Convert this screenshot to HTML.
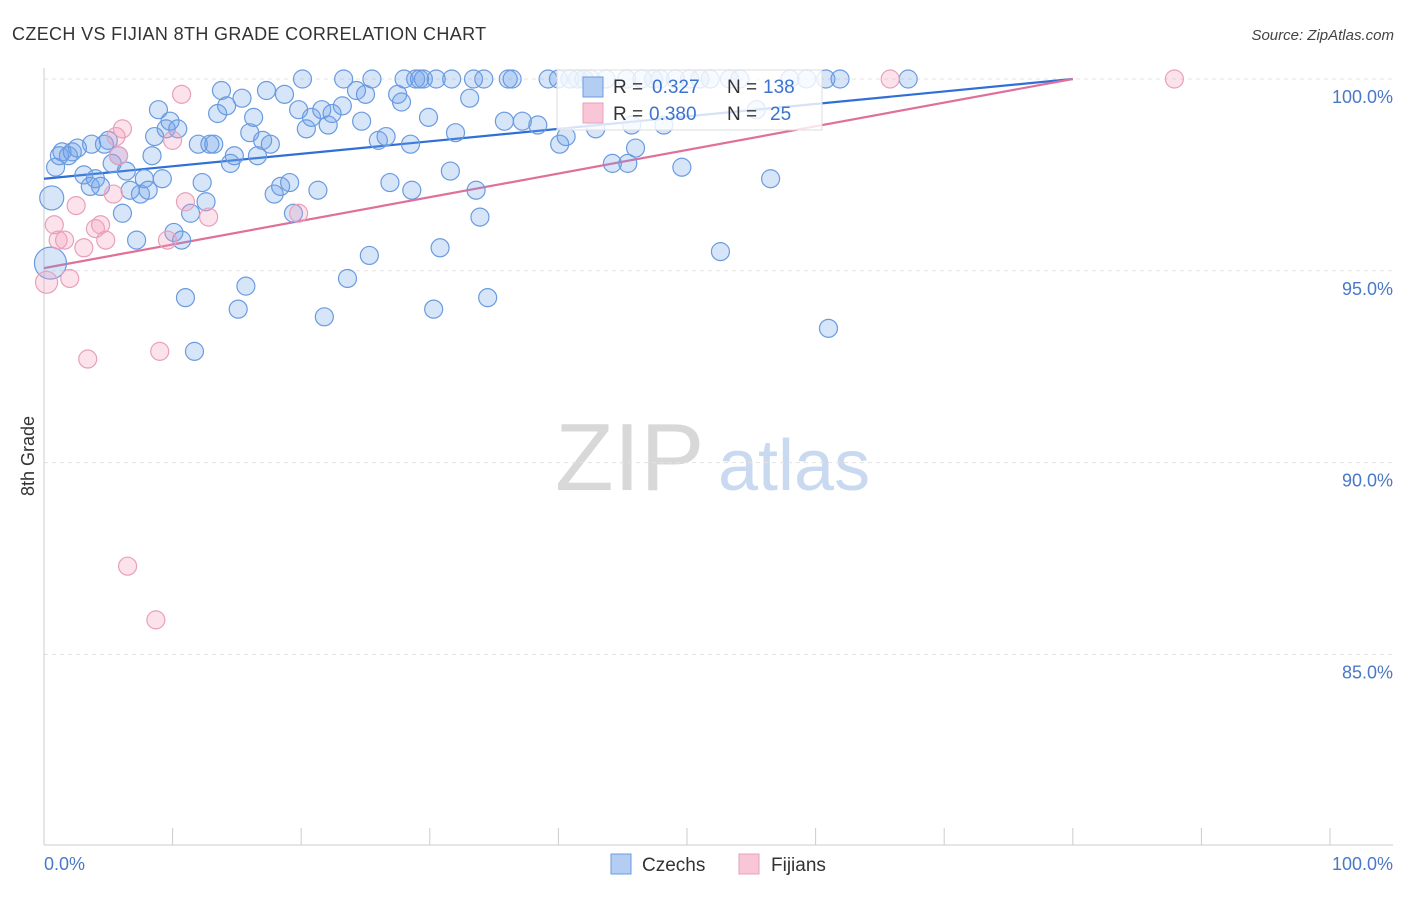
<!DOCTYPE html>
<html><head><meta charset="utf-8"><style>
body{margin:0;background:#fff;font-family:"Liberation Sans",sans-serif}
svg text{font-family:"Liberation Sans",sans-serif}
</style></head><body>
<svg id="chart" width="1406" height="892" viewBox="0 0 1406 892" xmlns="http://www.w3.org/2000/svg">
<text x="12" y="40" font-size="18" letter-spacing="0.35" fill="#333">CZECH VS FIJIAN 8TH GRADE CORRELATION CHART</text>
<text x="1394" y="40" font-size="15" font-style="italic" fill="#444" text-anchor="end">Source: ZipAtlas.com</text>
<g>
<text x="555" y="490" font-family="Liberation Serif,serif" font-size="96" fill="#d8d8d8">ZIP</text>
<text x="718" y="490" font-size="72" fill="#c9d9f0">atlas</text>
</g>
<g id="grid"></g>
<g id="axes"></g>
<g id="lines"></g>
<g id="pts"></g>
<text transform="translate(34,456) rotate(-90)" font-size="18" fill="#333" text-anchor="middle">8th Grade</text>
<g>
<rect x="557" y="70" width="265" height="60" fill="#fff" fill-opacity="0.8" stroke="#ddd"/>
<rect x="583" y="77" width="20" height="20" fill="#b4cdf2" stroke="#6a9be0"/>
<text x="613" y="93" font-size="19" fill="#333">R = </text><text x="652" y="93" font-size="19" fill="#3b73d1">0.327</text>
<text x="727" y="93" font-size="19" fill="#333">N = </text><text x="763" y="93" font-size="19" fill="#3b73d1">138</text>
<rect x="583" y="103" width="20" height="20" fill="#f8c6d6" stroke="#e8a0bb"/>
<text x="613" y="120" font-size="19" fill="#333">R = </text><text x="649" y="120" font-size="19" fill="#3b73d1">0.380</text>
<text x="727" y="120" font-size="19" fill="#333">N = </text><text x="770" y="120" font-size="19" fill="#3b73d1">25</text>
</g>
<g>
<rect x="611" y="854" width="20" height="20" fill="#b4cdf2" stroke="#6a9be0"/>
<text x="642" y="871" font-size="19" fill="#333">Czechs</text>
<rect x="739" y="854" width="20" height="20" fill="#f8c6d6" stroke="#e8a0bb"/>
<text x="771" y="871" font-size="19" fill="#333">Fijians</text>
</g>
</svg>
<script>
const yTicks=[100,95,90,85];
const yTickLabels=["100.0%","95.0%","90.0%","85.0%"];
const xTicks=[0,10,20,30,40,50,60,70,80,90,100];
const czechX=[0.6,0.9,1.2,1.4,1.9,2.2,2.6,3.1,3.6,3.7,4.0,4.4,4.7,5.0,5.3,5.8,6.1,6.4,6.7,7.2,7.5,7.8,8.1,8.4,8.6,8.9,9.2,9.5,9.8,10.1,10.4,10.7,11.0,11.4,11.7,12.0,12.3,12.6,12.9,13.2,13.5,13.8,14.2,14.5,14.8,15.1,15.4,15.7,16.0,16.3,16.6,17.0,17.3,17.6,17.9,18.4,18.7,19.1,19.4,19.8,20.1,20.4,20.8,21.3,21.6,21.8,22.1,22.4,23.2,23.3,23.6,24.3,24.7,25.0,25.3,25.5,26.0,26.6,26.9,27.5,27.8,28.0,28.5,28.6,28.9,29.2,29.5,29.9,30.3,30.5,30.8,31.6,31.7,32.0,33.1,33.4,33.6,33.9,34.2,34.5,35.8,36.1,36.4,37.2,38.4,39.2,40.0,40.1,40.6,40.9,41.5,42.0,42.5,42.9,43.7,44.2,45.3,45.4,45.7,46.0,46.5,47.4,47.9,48.2,49.1,49.6,50.2,51.0,51.8,52.6,53.3,54.1,55.4,56.5,58.0,59.3,60.8,61.0,61.9,67.2,0.5];
const czechY=[96.9,97.7,98.0,98.1,98.0,98.1,98.2,97.5,97.2,98.3,97.4,97.2,98.3,98.4,97.8,98.0,96.5,97.6,97.1,95.8,97.0,97.4,97.1,98.0,98.5,99.2,97.4,98.7,98.9,96.0,98.7,95.8,94.3,96.5,92.9,98.3,97.3,96.8,98.3,98.3,99.1,99.7,99.3,97.8,98.0,94.0,99.5,94.6,98.6,99.0,98.0,98.4,99.7,98.3,97.0,97.2,99.6,97.3,96.5,99.2,100,98.7,99.0,97.1,99.2,93.8,98.8,99.1,99.3,100,94.8,99.7,98.9,99.6,95.4,100,98.4,98.5,97.3,99.6,99.4,100,98.3,97.1,100,100,100,99.0,94.0,100,95.6,97.6,100,98.6,99.5,100,97.1,96.4,100,94.3,98.9,100,100,98.9,98.8,100,100,98.3,98.5,100,100,100,100,98.7,100,97.8,100,97.8,98.8,98.2,100,100,100,98.8,100,97.7,100,100,100,95.5,100,100,99.2,97.4,100,100,100,93.5,100,100,95.2];
const czechSize=[12,9,9,9,9,9,9,9,9,9,9,9,9,9,9,9,9,9,9,9,9,9,9,9,9,9,9,9,9,9,9,9,9,9,9,9,9,9,9,9,9,9,9,9,9,9,9,9,9,9,9,9,9,9,9,9,9,9,9,9,9,9,9,9,9,9,9,9,9,9,9,9,9,9,9,9,9,9,9,9,9,9,9,9,9,9,9,9,9,9,9,9,9,9,9,9,9,9,9,9,9,9,9,9,9,9,9,9,9,9,9,9,9,9,9,9,9,9,9,9,9,9,9,9,9,9,9,9,9,9,9,9,9,9,9,9,9,9,9,9,16];
const fijiX=[0.2,0.8,1.1,1.6,2.0,2.5,3.1,3.4,4.0,4.4,4.8,5.4,5.6,5.8,6.1,6.5,8.7,9.0,9.6,10.0,10.7,11.0,12.8,19.8,65.8,87.9];
const fijiY=[94.7,96.2,95.8,95.8,94.8,96.7,95.6,92.7,96.1,96.2,95.8,97.0,98.5,98.0,98.7,87.3,85.9,92.9,95.8,98.4,99.6,96.8,96.4,96.5,100,100];
const czechTrend=[[0,97.4],[80,100]];
const fijiTrend=[[0,95.07],[80,100]];
const NS="http://www.w3.org/2000/svg";
const X0=44,X1=1330,YTOP=79,PER=38.36;
function sx(v){return X0+(X1-X0)*v/100;}
function sy(v){return YTOP+(100-v)*PER;}
function mk(tag,attrs,parent){const e=document.createElementNS(NS,tag);for(const k in attrs)e.setAttribute(k,attrs[k]);parent.appendChild(e);return e;}
const grid=document.getElementById('grid'),axes=document.getElementById('axes'),lines=document.getElementById('lines'),pts=document.getElementById('pts');
yTicks.forEach((t,i)=>{
 const l=mk('line',{x1:44,x2:1393,y1:sy(t),y2:sy(t),stroke:'#e3e3e3','stroke-dasharray':'4,4'},grid);
 
 
 const tx=mk('text',{x:1393,y:sy(t)+24,'font-size':18,fill:'#4a78c8','text-anchor':'end'},axes);
 tx.textContent=yTickLabels[i];
 
 
});
let a=mk('line',{x1:44,x2:44,y1:68,y2:845,stroke:'#ccc'},axes);


a=mk('line',{x1:44,x2:1393,y1:845,y2:845,stroke:'#ccc'},axes);


xTicks.forEach(t=>{
 const l=mk('line',{x1:sx(t),x2:sx(t),y1:828,y2:845,stroke:'#ccc'},axes);
 
 
});
let xl=mk('text',{x:44,y:870,'font-size':18,fill:'#4a78c8'},axes);xl.textContent='0.0%';


xl=mk('text',{x:1393,y:870,'font-size':18,fill:'#4a78c8','text-anchor':'end'},axes);xl.textContent='100.0%';


czechX.forEach((v,i)=>{
 const c=mk('circle',{cx:sx(v),cy:sy(czechY[i]),r:czechSize[i],fill:'rgba(110,160,235,0.28)',stroke:'#6a9be0','stroke-width':1.2},pts);
 
 
});
fijiX.forEach((v,i)=>{
 const c=mk('circle',{cx:sx(v),cy:sy(fijiY[i]),r:i===0?11:9,fill:'rgba(245,160,190,0.3)',stroke:'#e8a0bb','stroke-width':1.2},pts);
 
 
});
let tl=mk('line',{x1:sx(czechTrend[0][0]),y1:sy(czechTrend[0][1]),x2:sx(czechTrend[1][0]),y2:sy(czechTrend[1][1]),stroke:'#2f6fd6','stroke-width':2.2},lines);


tl=mk('line',{x1:sx(fijiTrend[0][0]),y1:sy(fijiTrend[0][1]),x2:sx(fijiTrend[1][0]),y2:sy(fijiTrend[1][1]),stroke:'#e0709a','stroke-width':2.2},lines);


</script>
</body></html>
